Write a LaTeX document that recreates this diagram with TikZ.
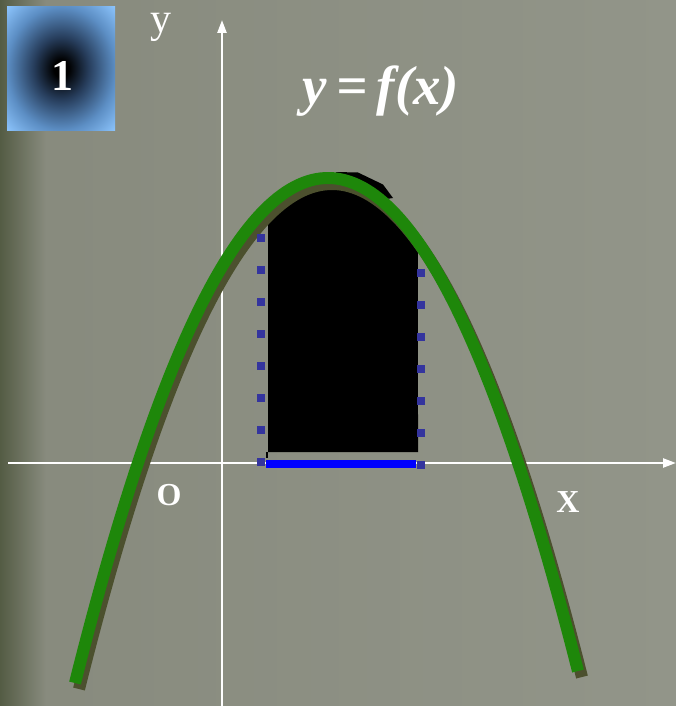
\documentclass[tikz,border=0pt]{standalone}
\usepackage{fontspec}
\newfontfamily\serifT{Liberation Serif}
\definecolor{bgmid}{RGB}{135,138,125}
\definecolor{bgright}{RGB}{146,149,137}
\definecolor{bgleft}{RGB}{84,92,68}
\definecolor{boxblue}{RGB}{140,196,252}
\definecolor{boxmid}{RGB}{92,142,196}
\definecolor{boxdark}{RGB}{38,60,90}
\definecolor{curvegreen}{RGB}{30,135,10}
\definecolor{shadowolive}{RGB}{76,80,46}
\definecolor{dotblue}{RGB}{52,52,158}
\definecolor{segblue}{RGB}{0,0,255}
\pgfdeclareradialshading{boxshade}{\pgfpoint{0bp}{0bp}}{color(0bp)=(black); color(3.5bp)=(black); color(12.5bp)=(boxdark); color(25bp)=(boxmid); color(35.5bp)=(boxblue); color(50bp)=(boxblue)}
\usetikzlibrary{arrows.meta}
\tikzset{
  axis/.style={draw=white, line width=2.4pt, -{Triangle[width=9pt,length=13pt]}},
  axlabel/.style={font=\serifT\bfseries\fontsize{32}{32}\selectfont, text=white, inner sep=0pt, anchor=base},
  curveline/.style={line width=12pt, line cap=butt, line join=round},
  dotsq/.style={fill=dotblue},
}
\begin{document}
\begin{tikzpicture}[x=1pt,y=-1pt]
\useasboundingbox (0,0) rectangle (676,706);
% background
\shade[left color=bgmid, right color=bgright] (0,0) rectangle (676,706);
\shade[left color=bgleft, right color=bgmid] (0,0) rectangle (45,706);
% numbered box
\shade[shading=boxshade] (7,7) rectangle (115,130);
\node[font=\serifT\bfseries\fontsize{44}{44}\selectfont, text=white, inner sep=0pt, anchor=base] (num) at (62,91) {1};
% axes
\coordinate (xs) at (8,463);
\coordinate (xe) at (676,463);
\coordinate (ys) at (222,706);
\coordinate (ye) at (222,20);
\draw[axis] (xs) -- (xe);
\draw[axis] (ys) -- (ye);
% labels
\node[font=\serifT\fontsize{42}{42}\selectfont, text=white, inner sep=0pt, anchor=base] (ylab) at (161,33) {y};
\node[axlabel] (xlab) at (568,512) {X};
\node[axlabel] (olab) at (169,505) {O};
\node[font=\serifT\bfseries\itshape\fontsize{55}{55}\selectfont, text=white, inner sep=0pt, anchor=base] (eq) at (381,105) {y\,=\,f(x)};
% black region under the curve (t = (x-328)/100)
\fill[black] (268,452) -- (268,{178+78.9*0.36})
  -- plot[domain=-0.6:0.9, samples=40] ({328+100*\x},{178+78.9*\x*\x+4})
  -- (418,452) -- cycle;
\fill[black] (336,172) -- (358,172.5) -- (383,184.5) -- (393,198) -- (380,200) -- (340,182) -- cycle;
\fill[black] (266,452) -- (268,452) -- (268,458) -- (266,458) -- cycle;
% curve shadow and curve
\draw[curveline, shadowolive] plot[domain=-2.53:2.5, samples=120] ({332+100*\x},{184+78.9*\x*\x});
\draw[curveline, curvegreen] plot[domain=-2.53:2.5, samples=120] ({328+100*\x},{178+78.9*\x*\x});
% blue segment
\coordinate (sa) at (266,464);
\coordinate (sb) at (416,464);
\draw[segblue, line width=7.5pt] (sa) -- (sb);
% dotted verticals
\foreach \yy in {238,270,302,334,366,398,430,462}
  \fill[dotsq] (257.3,\yy-3.7) rectangle (264.7,\yy+3.7);
\foreach \yy in {273,305,337,369,401,433,465}
  \fill[dotsq] (417.3,\yy-3.7) rectangle (424.7,\yy+3.7);
\end{tikzpicture}
\end{document}
